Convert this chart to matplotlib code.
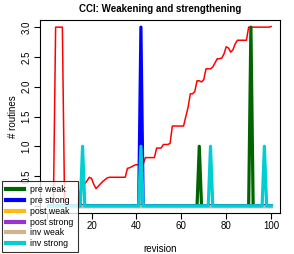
import numpy as np
import matplotlib
matplotlib.use("Agg")
import matplotlib.pyplot as plt

revision = list(range(1, 101))

# cumulative-ish red curve
total = [0, 0, 0, 3, 3, 3, 3, 0, 0, 0,
         0, 0, 0, 0, 0.25, 0.37, 0.37, 0.42, 0.48, 0.46,
         0.36, 0.29, 0.33, 0.37, 0.41, 0.44, 0.47, 0.48, 0.48, 0.48,
         0.48, 0.48, 0.48, 0.48, 0.48, 0.63, 0.64, 0.66, 0.68, 0.69,
         0.69, 0.69, 0.70, 0.81, 0.81, 0.81, 0.81, 0.81, 0.97, 0.97,
         0.97, 1.03, 1.03, 1.03, 1.05, 1.34, 1.34, 1.34, 1.34, 1.34,
         1.34, 1.50, 1.65, 1.88, 1.88, 1.92, 2.10, 2.10, 2.08, 2.12,
         2.30, 2.30, 2.30, 2.33, 2.40, 2.47, 2.47, 2.48, 2.55, 2.67,
         2.65, 2.58, 2.62, 2.72, 2.78, 2.78, 2.78, 2.78, 2.78, 3.0,
         3.0, 3.0, 3.0, 3.0, 3.0, 3.0, 3.0, 3.0, 3.0, 3.01]

# spikes: {revision: value}, zero elsewhere
pre_weak_pts = {68: 1, 91: 3}
pre_strong_pts = {42: 3}
post_weak_pts = {}
post_strong_pts = {}
inv_weak_pts = {}
inv_strong_pts = {16: 1, 42: 1, 73: 1, 97: 1}

labels = ["pre weak", "pre strong", "post weak", "post strong", "inv weak", "inv strong"]
colors = ["#006400", "#0000FF", "#FFB90F", "#9A32CD", "#D2B48C", "#00CED1"]

x_ticks = [0, 20, 40, 60, 80, 100]
y_ticks = [0, 0.5, 1.0, 1.5, 2.0, 2.5, 3.0]


def series(pts):
    return [pts.get(r, 0) for r in revision]


all_series = [series(p) for p in [pre_weak_pts, pre_strong_pts, post_weak_pts,
                                  post_strong_pts, inv_weak_pts, inv_strong_pts]]

plt.rcParams['font.family'] = ['Liberation Sans', 'DejaVu Sans']
fig = plt.figure(figsize=(2.94, 2.54), dpi=100)
ax = fig.add_axes([40 / 294, 1 - 213 / 254, 240 / 294, 193 / 254])

ax.plot(revision, total, color="red", lw=1.1, zorder=3)
handles = []
for ys, c, lab in zip(all_series, colors, labels):
    h, = ax.plot(revision, ys, color=c, lw=2.3, label=lab, zorder=4)
    handles.append(h)

ax.set_xlim(1 - 99 * 0.04, 100 + 99 * 0.04)
ax.set_ylim(-0.12, 3.12)
ax.set_xticks(x_ticks)
# the 0 labels sit under the legend in the original
ax.set_xticklabels(["" if t == 0 else str(t) for t in x_ticks])
ax.set_yticks(y_ticks)
ax.set_yticklabels(["" if t == 0 else f"{t:.1f}" for t in y_ticks], rotation=90, va="center")
ax.tick_params(labelsize=7, length=4, width=0.8, pad=2)
for s in ax.spines.values():
    s.set_linewidth(0.8)

ax.set_title("CCI: Weakening and strengthening", fontsize=7, fontweight="bold", pad=6)
ax.set_xlabel("revision", fontsize=7, labelpad=9)
ax.set_ylabel("# routines", fontsize=7, labelpad=3)

leg = fig.legend(handles=handles, loc="lower left", bbox_to_anchor=(2 / 294, 2 / 254),
                 fontsize=6.3, frameon=True, fancybox=False, edgecolor="black",
                 handlelength=2.1, handletextpad=0.7, labelspacing=0.2,
                 borderpad=0.45, borderaxespad=0)
leg.get_frame().set_linewidth(0.8)
for ln in leg.get_lines():
    ln.set_linewidth(3)
leg.set_zorder(10)

fig.savefig("out.png", dpi=100)
